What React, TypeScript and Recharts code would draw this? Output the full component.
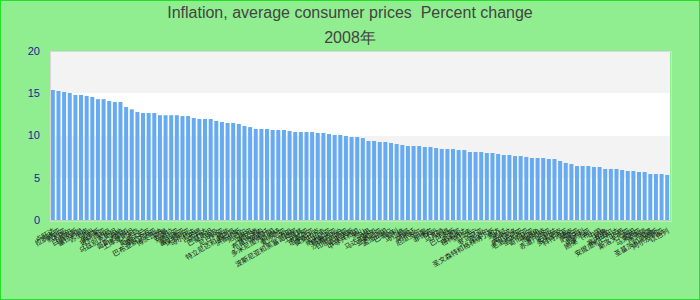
import { BarChart, Bar, XAxis, YAxis, CartesianGrid } from "recharts";

const countries = [
    "卢旺达", "拉脱维亚", "叙利亚", "卡塔尔", "白俄罗斯", "塞拉利昂", "苏里南", "苏丹", "俄罗斯", "玻利维亚",
    "约旦", "乌兹别克斯坦", "海地", "哥斯达黎加", "土库曼斯坦", "冰岛", "斯威士兰", "摩尔多瓦", "巴布亚新几内亚", "博茨瓦纳",
    "阿曼", "安哥拉", "赞比亚", "塞尔维亚", "保加利亚", "马尔代夫", "吉布提", "乌干达", "巴基斯坦", "埃及",
    "尼日利亚", "南非", "特立尼达和多巴哥", "洪都拉斯", "尼日尔", "立陶宛", "黎巴嫩", "布基纳法索", "莱索托", "多米尼加共和国",
    "科威特", "爱沙尼亚", "汤加", "波斯尼亚和黑塞哥维那", "土耳其", "利比亚", "坦桑尼亚", "莫桑比克", "巴拉圭", "纳米比亚",
    "格鲁吉亚", "沙特阿拉伯", "印度尼西亚", "毛里求斯", "中非共和国", "黑山", "马里", "马达加斯加", "亚美尼亚", "孟加拉国",
    "巴拿马", "智利", "马拉维", "多哥", "阿根廷", "厄瓜多尔", "印度", "菲律宾", "不丹", "马其顿",
    "乍得", "巴巴多斯", "圭亚那", "格林纳达", "乌拉圭", "贝宁", "罗马尼亚", "尼泊尔", "圣文森特和格林纳丁斯", "斐济",
    "老挝", "东帝汶", "萨尔瓦多", "毛里塔尼亚", "圣卢西亚", "哥伦比亚", "佛得角", "新加坡", "赤道几内亚", "伯利兹",
    "多米尼克", "科特迪瓦", "捷克", "萨摩亚", "匈牙利", "克罗地亚", "刚果（布）", "中国", "秘鲁", "塞内加尔",
    "安提瓜和巴布达", "巴西", "斯洛文尼亚", "泰国", "马来西亚", "喀麦隆", "加蓬", "圣基茨和尼维斯", "阿尔及利亚", "以色列",
];

const inflation = [
    15.38, 15.27, 15.15, 15.03, 14.8, 14.8, 14.67, 14.56, 14.3, 14.3,
    14.08, 13.96, 13.96, 13.37, 13.1, 12.78, 12.66, 12.66, 12.66, 12.4,
    12.4, 12.4, 12.4, 12.3, 12.3, 12.07, 11.95, 11.95, 11.95, 11.72,
    11.6, 11.48, 11.48, 11.36, 11.12, 11.0, 10.77, 10.77, 10.77, 10.65,
    10.65, 10.65, 10.53, 10.41, 10.41, 10.41, 10.41, 10.3, 10.3, 10.18,
    10.06, 10.06, 9.94, 9.82, 9.82, 9.7, 9.35, 9.35, 9.23, 9.23,
    9.11, 8.99, 8.88, 8.76, 8.76, 8.76, 8.64, 8.64, 8.52, 8.4,
    8.4, 8.4, 8.28, 8.28, 8.05, 8.05, 8.05, 7.93, 7.93, 7.81,
    7.69, 7.69, 7.57, 7.57, 7.46, 7.34, 7.34, 7.34, 7.22, 7.22,
    6.98, 6.75, 6.63, 6.39, 6.39, 6.39, 6.27, 6.27, 6.04, 6.04,
    6.04, 5.92, 5.8, 5.8, 5.68, 5.68, 5.44, 5.44, 5.44, 5.33,
];

const yTicks = [0, 5, 10, 15, 20];

const data = countries.map((name, i) => ({ name, value: inflation[i] }));

export default function App() {
    return (
        <div
            style={{
                position: "absolute",
                left: 0,
                top: 0,
                width: 700,
                height: 300,
                boxSizing: "border-box",
                border: "1px solid #22e022",
                background: "#90ee90",
                fontFamily: "'Liberation Sans', Arial, sans-serif",
            }}
        >
            <div style={{ position: "absolute", left: 0, top: 3, width: 698, textAlign: "center", fontSize: 16, color: "#444" }}>
                Inflation, average consumer prices&nbsp; Percent change
            </div>
            <div style={{ position: "absolute", left: 0, top: 27, width: 698, textAlign: "center", fontSize: 16, color: "#444" }}>
                2008年
            </div>
            <div style={{ position: "absolute", left: -1, top: -1 }}>
                <BarChart
                    width={700}
                    height={300}
                    data={data}
                    margin={{ top: 51, right: 30, bottom: 0, left: 0 }}
                    barCategoryGap="15%"
                >
                    <CartesianGrid
                        vertical={false}
                        stroke="none"
                        fill="none"
                        horizontalFill={["#f3f3f3", "#ffffff"]}
                    />
                    <XAxis
                        dataKey="name"
                        interval={0}
                        height={80}
                        axisLine={false}
                        tickLine={false}
                        angle={-30}
                        textAnchor="end"
                        tick={{ fontSize: 7, fill: "#1a1a1a", fontFamily: "'Noto Sans CJK SC'" }}
                    />
                    <YAxis
                        width={50}
                        domain={[0, 20]}
                        ticks={yTicks}
                        axisLine={false}
                        tickLine={false}
                        tickMargin={4}
                        tick={{ fontSize: 11, fill: "#1c1c9c" }}
                    />
                    <Bar dataKey="value" fill="#66aaf2" isAnimationActive={false} />
                </BarChart>
            </div>
            <div
                style={{
                    position: "absolute",
                    left: 49,
                    top: 50,
                    width: 620,
                    height: 169,
                    border: "1px solid #d8d8d8",
                    pointerEvents: "none",
                }}
            />
        </div>
    );
}
